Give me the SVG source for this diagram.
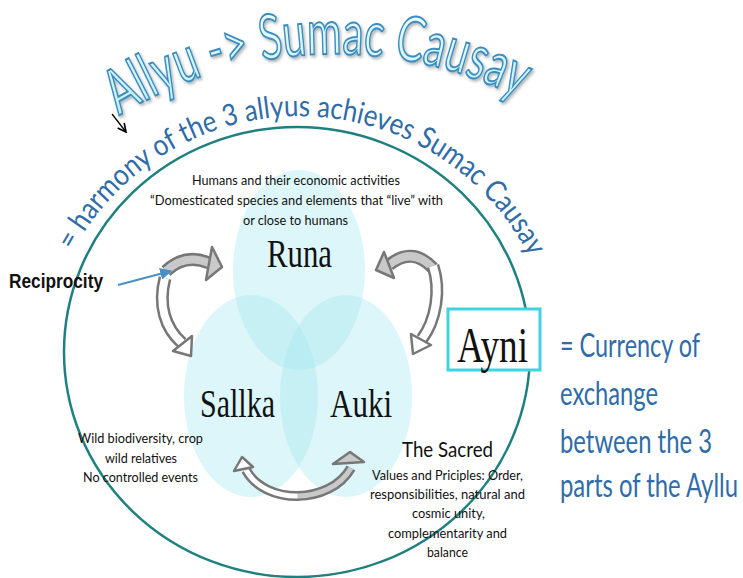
<svg xmlns="http://www.w3.org/2000/svg" width="743" height="578" viewBox="0 0 743 578">
<defs>
<style>
.serif{font-family:"Liberation Serif","DejaVu Serif",serif;fill:#111}
.cal{font-family:Lato,"Liberation Sans",sans-serif;fill:#111}
.blue{font-family:Lato,"Liberation Sans",sans-serif;fill:#2f6ca8}
.venn{fill:#a8e9f0;fill-opacity:0.4}
.band{fill:none;stroke:#777;stroke-width:13;stroke-linecap:butt}
.bandw{fill:none;stroke:#fff;stroke-width:8;stroke-linecap:butt}
.bandg{fill:none;stroke:#c9c9c9;stroke-width:8;stroke-linecap:butt}
.headg{fill:#c9c9c9;stroke:#777;stroke-width:2.5;stroke-linejoin:round}
.headw{fill:#fff;stroke:#777;stroke-width:2.5;stroke-linejoin:round}
</style>
<linearGradient id="tg" x1="0" y1="0" x2="0" y2="1">
<stop offset="0" stop-color="#f0fcfe"/>
<stop offset="1" stop-color="#bdedf5"/>
</linearGradient>
<filter id="sh" x="-10%" y="-20%" width="120%" height="140%">
<feDropShadow dx="1.5" dy="2" stdDeviation="1.5" flood-color="#000" flood-opacity="0.3"/>
</filter>
<marker id="ab" viewBox="0 0 10 10" refX="9" refY="5" markerWidth="6" markerHeight="6" orient="auto">
<path d="M0,0 L10,5 L0,10 z" fill="#4a90c8"/>
</marker>
<marker id="ak" viewBox="0 0 10 10" refX="9" refY="5" markerWidth="8" markerHeight="8" orient="auto">
<path d="M1,1 L9,5 L1,9" fill="none" stroke="#000" stroke-width="1.6"/>
</marker>
<path id="titlePath" d="M119.3,115.8 A407,407 0 0 1 526.1,101.6"/>
<path id="harmPath" d="M73,251 A258,258 0 0 1 531.9,261.9"/>
</defs>
<rect width="743" height="578" fill="#fff"/>

<g id="title" filter="url(#sh)">
<text font-family="Lato,'Liberation Sans',sans-serif" font-size="62" fill="url(#tg)" stroke="#3a8cbf" stroke-width="2"><textPath href="#titlePath" textLength="418" lengthAdjust="spacingAndGlyphs">Allyu -&gt; Sumac Causay</textPath></text>
</g>

<g id="outer-circle">
<ellipse cx="297" cy="352" rx="233" ry="225" fill="none" stroke="#1f8080" stroke-width="2.5"/>
</g>

<g id="harmony">
<text class="blue" font-size="30"><textPath href="#harmPath" textLength="560" lengthAdjust="spacingAndGlyphs">= harmony of the 3 allyus achieves Sumac Causay</textPath></text>
</g>

<g id="node-runa">
<ellipse class="venn" cx="299" cy="270" rx="66" ry="100"/>
<text class="serif" x="267" y="267" font-size="40" textLength="65" lengthAdjust="spacingAndGlyphs">Runa</text>
</g>
<g id="node-sallka">
<ellipse class="venn" cx="251" cy="396" rx="67" ry="101"/>
<text class="serif" x="200" y="417" font-size="40" textLength="75" lengthAdjust="spacingAndGlyphs">Sallka</text>
</g>
<g id="node-auki">
<ellipse class="venn" cx="346" cy="396" rx="66" ry="101"/>
<text class="serif" x="330" y="417" font-size="40" textLength="62" lengthAdjust="spacingAndGlyphs">Auki</text>
</g>

<g id="runa-desc" class="cal" font-size="14">
<text x="192" y="185" textLength="208" lengthAdjust="spacingAndGlyphs">Humans and their economic activities</text>
<text x="150" y="205" textLength="293" lengthAdjust="spacingAndGlyphs">“Domesticated species and elements that “live” with</text>
<text x="243" y="225" textLength="105" lengthAdjust="spacingAndGlyphs">or close to humans</text>
</g>

<g id="sallka-desc" class="cal" font-size="14">
<text x="78" y="443" textLength="125" lengthAdjust="spacingAndGlyphs">Wild biodiversity, crop</text>
<text x="105" y="463" textLength="72" lengthAdjust="spacingAndGlyphs">wild relatives</text>
<text x="83" y="482" textLength="115" lengthAdjust="spacingAndGlyphs">No controlled events</text>
</g>

<g id="auki-desc" class="cal">
<text x="402" y="457" font-size="22" textLength="91" lengthAdjust="spacingAndGlyphs">The Sacred</text>
<text x="372" y="480" font-size="14" textLength="151" lengthAdjust="spacingAndGlyphs">Values and Priciples: Order,</text>
<text x="370" y="499" font-size="14" textLength="155" lengthAdjust="spacingAndGlyphs">responsibilities, natural and</text>
<text x="412" y="518" font-size="14" textLength="73" lengthAdjust="spacingAndGlyphs">cosmic unity,</text>
<text x="388" y="538" font-size="14" textLength="119" lengthAdjust="spacingAndGlyphs">complementarity and</text>
<text x="427" y="557" font-size="14" textLength="41" lengthAdjust="spacingAndGlyphs">balance</text>
</g>

<g id="node-ayni">
<rect x="448" y="309" width="92" height="61" fill="#fff" stroke="#3fd3df" stroke-width="3"/>
<text class="serif" x="457" y="362" font-size="50" textLength="71" lengthAdjust="spacingAndGlyphs">Ayni</text>
</g>

<g id="ayni-desc" class="blue" font-size="32">
<text x="560" y="357" textLength="140" lengthAdjust="spacingAndGlyphs">= Currency of</text>
<text x="560" y="405" textLength="98" lengthAdjust="spacingAndGlyphs">exchange</text>
<text x="560" y="453" textLength="152" lengthAdjust="spacingAndGlyphs">between the 3</text>
<text x="560" y="497" textLength="178" lengthAdjust="spacingAndGlyphs">parts of the Ayllu</text>
</g>

<g id="reciprocity">
<text x="9" y="288" font-family="'Liberation Sans',Arial,sans-serif" font-weight="bold" font-size="20" fill="#111" textLength="94" lengthAdjust="spacingAndGlyphs">Reciprocity</text>
</g>

<g id="connectors">
<path class="band" d="M166,271 Q185,253 209,263"/>
<path class="bandg" d="M166,271 Q185,253 209,263"/>
<polygon class="headg" points="212,247 222,267 206,280"/>
<path class="band" d="M165,278 C158,305 165,328 182,343"/>
<path class="bandw" d="M165,278 C158,305 165,328 182,343"/>
<polygon class="headw" points="192,336 191,356 173,351"/>
<path class="band" d="M433,268 Q412,246 389,265"/>
<path class="bandg" d="M433,268 Q412,246 389,265"/>
<polygon class="headg" points="384,252 376,270 394,278"/>
<path class="band" d="M433,266 C441,290 436,320 422,339"/>
<path class="bandw" d="M433,266 C441,290 436,320 422,339"/>
<polygon class="headw" points="431,345 413,354 411,334"/>
<path class="band" style="stroke-width:10" d="M246,470 C265,505 330,505 351,468"/>
<path class="bandw" style="stroke-width:5" d="M246,470 C255.5,487.5 276.5,496.25 297.75,496"/>
<path class="bandg" style="stroke-width:5" d="M297.75,496 C319,495.75 340.5,486.5 351,468"/>
<polygon class="headw" points="242,457 234,471 253,467"/>
<polygon class="headg" points="350,452 333,464 364,462"/>
<line x1="118" y1="285" x2="171" y2="271" stroke="#4a90c8" stroke-width="2" marker-end="url(#ab)"/>
<line x1="112" y1="114" x2="126" y2="132" stroke="#000" stroke-width="1.3" marker-end="url(#ak)"/>
</g>
</svg>
